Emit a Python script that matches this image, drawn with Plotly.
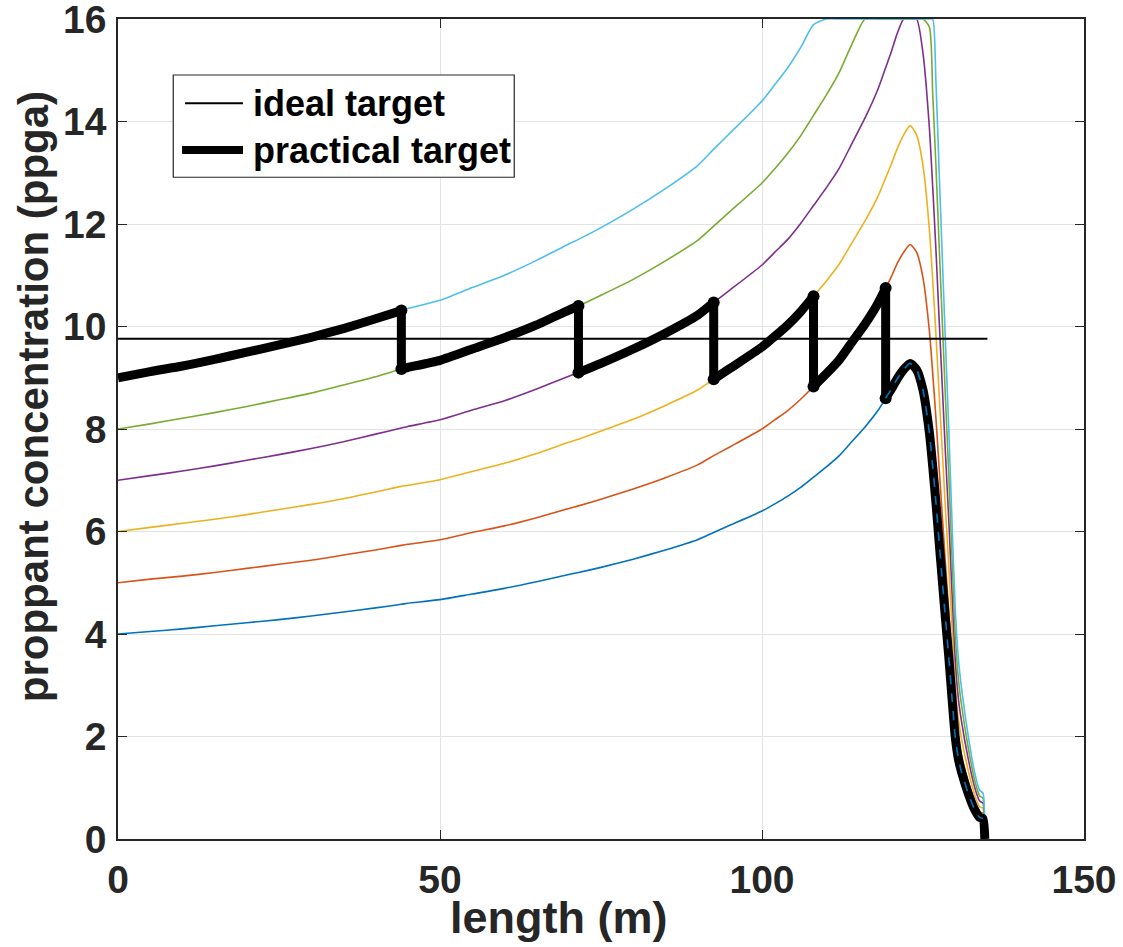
import plotly.graph_objects as go

# ---------------- data ----------------
length_m = [0, 5, 10, 15, 20, 25, 30, 35, 40, 44, 45, 50, 55, 60, 65, 70, 71.5, 75, 80, 85,
            90, 92.5, 95, 100, 102, 104, 106, 108, 110, 112, 114, 116, 118, 119.2, 120, 121,
            122, 123, 124, 125, 126, 126.5, 127, 127.5, 128, 128.5, 129, 129.5, 130, 130.5,
            131, 132, 133, 133.8, 134.3, 134.6]

conc_4 = [4.00, 4.05, 4.10, 4.16, 4.22, 4.28, 4.35, 4.43, 4.51, 4.58, 4.60, 4.67, 4.78, 4.89,
          5.02, 5.16, 5.20, 5.30, 5.46, 5.64, 5.84, 5.98, 6.12, 6.40, 6.54, 6.69, 6.86, 7.06,
          7.26, 7.48, 7.76, 8.04, 8.36, 8.60, 8.76, 8.98, 9.16, 9.28, 9.16, 8.76, 7.92, 7.28,
          6.58, 5.80, 5.04, 4.28, 3.56, 2.76, 2.00, 1.56, 1.30, 0.90, 0.58, 0.42, 0.40, 0.00]
conc_5 = [5.00, 5.07, 5.13, 5.20, 5.28, 5.36, 5.44, 5.54, 5.64, 5.73, 5.75, 5.84, 5.98, 6.11,
          6.27, 6.45, 6.50, 6.63, 6.83, 7.05, 7.30, 7.48, 7.65, 8.00, 8.18, 8.36, 8.58, 8.83,
          9.08, 9.35, 9.70, 10.05, 10.45, 10.75, 10.95, 11.23, 11.45, 11.60, 11.45, 10.95,
          9.90, 9.10, 8.23, 7.25, 6.30, 5.35, 4.45, 3.45, 2.50, 1.95, 1.63, 1.13, 0.73, 0.53,
          0.50, 0.00]
conc_6 = [6.00, 6.08, 6.16, 6.24, 6.33, 6.43, 6.53, 6.64, 6.77, 6.88, 6.90, 7.01, 7.17, 7.33,
          7.52, 7.74, 7.80, 7.96, 8.19, 8.46, 8.76, 8.97, 9.18, 9.60, 9.81, 10.03, 10.29, 10.59,
          10.89, 11.22, 11.64, 12.06, 12.54, 12.90, 13.14, 13.47, 13.74, 13.92, 13.74, 13.14,
          11.88, 10.92, 9.87, 8.70, 7.56, 6.42, 5.34, 4.14, 3.00, 2.34, 1.95, 1.35, 0.87, 0.63,
          0.60, 0.00]
conc_7 = [7.00, 7.09, 7.18, 7.28, 7.39, 7.50, 7.62, 7.75, 7.90, 8.02, 8.05, 8.18, 8.37, 8.55,
          8.78, 9.03, 9.10, 9.28, 9.56, 9.87, 10.22, 10.47, 10.71, 11.20, 11.45, 11.70, 12.01,
          12.36, 12.71, 13.09, 13.58, 14.07, 14.63, 15.05, 15.33, 15.72, 16.00, 16.00, 16.00,
          15.33, 13.86, 12.74, 11.52, 10.15, 8.82, 7.49, 6.23, 4.83, 3.50, 2.73, 2.28, 1.58,
          1.02, 0.74, 0.70, 0.00]
conc_8 = [8.00, 8.10, 8.21, 8.32, 8.44, 8.57, 8.70, 8.86, 9.02, 9.17, 9.20, 9.34, 9.56, 9.78,
          10.03, 10.32, 10.40, 10.61, 10.92, 11.28, 11.68, 11.96, 12.24, 12.80, 13.08, 13.38,
          13.72, 14.12, 14.52, 14.96, 15.52, 16.00, 16.00, 16.00, 16.00, 16.00, 16.00, 16.00,
          16.00, 16.00, 15.84, 14.56, 13.16, 11.60, 10.08, 8.56, 7.12, 5.52, 4.00, 3.12, 2.60,
          1.80, 1.16, 0.84, 0.80, 0.00]
conc_9 = [9.00, 9.12, 9.23, 9.36, 9.50, 9.64, 9.79, 9.96, 10.15, 10.31, 10.35, 10.51, 10.76,
          11.00, 11.29, 11.61, 11.70, 11.93, 12.29, 12.69, 13.14, 13.46, 13.77, 14.40, 14.72,
          15.05, 15.44, 15.89, 16.00, 16.00, 16.00, 16.00, 16.00, 16.00, 16.00, 16.00, 16.00,
          16.00, 16.00, 16.00, 16.00, 16.00, 14.81, 13.05, 11.34, 9.63, 8.01, 6.21, 4.50, 3.51,
          2.93, 2.03, 1.31, 0.95, 0.90, 0.00]

series_values = [conc_4, conc_5, conc_6, conc_7, conc_8, conc_9]
series_colors = ["#0072BD", "#D95319", "#EDB120", "#7E2F8E", "#77AC30", "#4DBEEE"]
for s in series_values:
    assert len(s) == len(length_m)

ideal_x = [0, 135]
ideal_y = [9.76, 9.76]

# practical target: switches from one curve to the next at these lengths
jump_lengths = [44, 71.5, 92.5, 108, 119.2]
practical_order = [conc_9, conc_8, conc_7, conc_6, conc_5, conc_4]

x_ticks = [0, 50, 100, 150]
y_ticks = [0, 2, 4, 6, 8, 10, 12, 14, 16]

legend_labels = ["ideal target", "practical target"]

# ---------------- figure ----------------
FONT = "Liberation Sans, Arial, Helvetica, sans-serif"
TXT = "#262626"
SMOOTH = 0.6

fig = go.Figure()

for vals, col in zip(series_values, series_colors):
    fig.add_trace(go.Scatter(x=length_m, y=vals, mode="lines",
                             line=dict(color=col, width=1.6, shape="spline", smoothing=SMOOTH),
                             showlegend=False, hoverinfo="skip"))

fig.add_trace(go.Scatter(x=ideal_x, y=ideal_y, mode="lines", name=legend_labels[0],
                         line=dict(color="black", width=2), showlegend=False))

# practical target: one smooth piece per curve, joined by vertical jumps
bounds = [0] + jump_lengths + [length_m[-1]]
jump_x, jump_y = [], []
for k, ser in enumerate(practical_order):
    i0 = length_m.index(bounds[k])
    i1 = length_m.index(bounds[k + 1])
    fig.add_trace(go.Scatter(x=length_m[i0:i1 + 1], y=ser[i0:i1 + 1], mode="lines",
                             name=legend_labels[1],
                             line=dict(color="black", width=9, shape="spline",
                                       smoothing=SMOOTH),
                             showlegend=False, hoverinfo="skip"))
    if k < len(practical_order) - 1:
        nxt = practical_order[k + 1]
        jx = [length_m[i1], length_m[i1]]
        jy = [ser[i1], nxt[i1]]
        fig.add_trace(go.Scatter(x=jx, y=jy, mode="lines+markers",
                                 line=dict(color="black", width=9),
                                 marker=dict(color="black", size=12),
                                 showlegend=False, hoverinfo="skip"))

# blue dashed overlay visible inside the thick black tail
tail_start = length_m.index(jump_lengths[-1])
fig.add_trace(go.Scatter(x=length_m[tail_start:-1], y=conc_4[tail_start:-1], mode="lines",
                         line=dict(color="#0072BD", width=1.6, dash="dash", shape="spline",
                                   smoothing=SMOOTH),
                         showlegend=False, hoverinfo="skip"))

axis_common = dict(showline=True, linecolor=TXT, linewidth=1.5, mirror="ticks",
                   ticks="inside", ticklen=9, tickwidth=1.2, tickcolor=TXT,
                   showgrid=True, gridcolor="#e3e3e3", gridwidth=1, zeroline=False,
                   ticklabeloverflow="allow", automargin=False,
                   tickfont=dict(family=FONT, size=39, color=TXT, weight="bold"))

fig.update_xaxes(range=[0, 150], tickvals=x_ticks, ticktext=[str(v) for v in x_ticks],
                 ticklabelstandoff=5, **axis_common)
fig.update_yaxes(range=[0, 16], tickvals=y_ticks, ticktext=[str(v) for v in y_ticks],
                 ticklabelstandoff=2, **axis_common)

fig.add_annotation(text="length (m)", xref="paper", yref="paper", x=0.4555, y=-0.0963,
                   xanchor="center", yanchor="middle", showarrow=False,
                   font=dict(family=FONT, size=45, color=TXT, weight="bold"))
fig.add_annotation(text="proppant concentration (ppga)", xref="paper", yref="paper",
                   x=-0.088, y=0.540, xanchor="center", yanchor="middle", textangle=-90,
                   showarrow=False,
                   font=dict(family=FONT, size=42, color=TXT, weight="bold"))

# ---- legend box drawn by hand (line samples are longer than Plotly's legend allows) ----
fig.add_shape(type="rect", xref="paper", yref="paper", x0=0.0572, x1=0.4102,
              y0=0.8070, y1=0.9317, line=dict(color=TXT, width=1.2), fillcolor="white",
              layer="above")
fig.add_shape(type="line", xref="paper", yref="paper", x0=0.0694, x1=0.1294,
              y0=0.8972, y1=0.8972, line=dict(color="black", width=2), layer="above")
fig.add_shape(type="line", xref="paper", yref="paper", x0=0.0663, x1=0.1294,
              y0=0.8402, y1=0.8402, line=dict(color="black", width=8), layer="above")
for lab, yy in zip(legend_labels, [0.8972, 0.8402]):
    fig.add_annotation(text=lab, xref="paper", yref="paper", x=0.1377, y=yy,
                       xanchor="left", yanchor="middle", showarrow=False,
                       font=dict(family=FONT, size=36, color="black", weight="bold"))

fig.update_layout(
    width=1123, height=947,
    margin=dict(l=118, r=39, t=19, b=108, autoexpand=False),
    paper_bgcolor="white", plot_bgcolor="white",
    showlegend=False,
)

fig.write_html("out.html")
